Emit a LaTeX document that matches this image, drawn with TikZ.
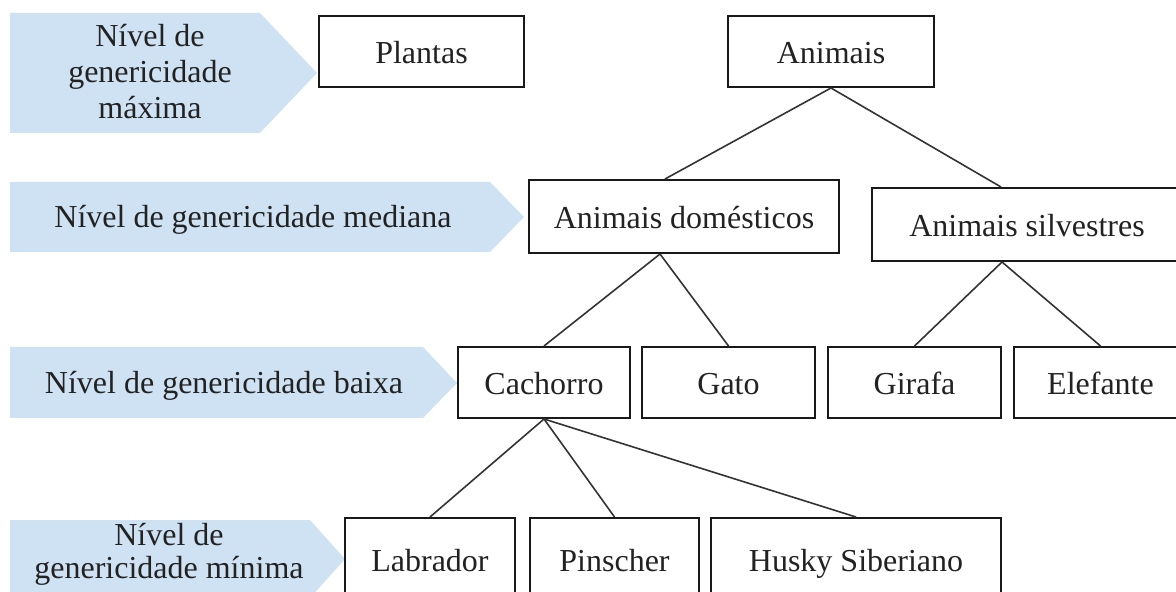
\documentclass[tikz,border=0pt]{standalone}
\usepackage{fontspec}
\setmainfont{Liberation Serif}
\definecolor{levelblue}{HTML}{CFE2F3}
\definecolor{ink}{HTML}{222222}
\begin{document}
\begin{tikzpicture}[x=0.5pt,y=-0.5pt,
  levelarrow/.style={fill=levelblue, draw=none},
  leveltext/.style={align=center, text=ink, inner sep=0pt,
    font=\fontsize{16}{18}\selectfont},
  box/.style={draw=black!90, line width=1pt, fill=white, inner sep=0pt,
    text=ink, text height=12pt, text depth=0pt, font=\fontsize{16}{19}\selectfont},
  link/.style={draw=black!80, line width=0.8pt}]
\useasboundingbox (0,0) rectangle (1176,592);
\clip (0,0) rectangle (1176,592);

% level arrows on the left
\fill[levelarrow] (10,13) -- (260,13) -- (317,73) -- (260,133) -- (10,133) -- cycle;
\fill[levelarrow] (10,182) -- (490,182) -- (524,217) -- (490,252) -- (10,252) -- cycle;
\fill[levelarrow] (10,347) -- (423,347) -- (457,383) -- (423,418) -- (10,418) -- cycle;
\fill[levelarrow] (10,520) -- (310,520) -- (345,559) -- (310,598) -- (10,598) -- cycle;

\node[leveltext] (lvmax) at (150,72) {Nível de\\genericidade\\máxima};
\node[leveltext] (lvmed) at (253,220) {Nível de genericidade mediana};
\node[leveltext] (lvbaixa) at (224,386) {Nível de genericidade baixa};
\node[leveltext, font=\fontsize{16}{16.5}\selectfont] (lvmin) at (169,554) {Nível de\\genericidade mínima};

% hierarchy boxes
\node[box, minimum width=102.5pt, minimum height=35.5pt] (plantas) at (421.5,51.5) {Plantas};
\node[box, minimum width=103pt, minimum height=35.5pt] (animais) at (831,51.5) {Animais};

\node[box, minimum width=155pt, minimum height=36.5pt] (dom) at (684,216.5) {Animais domésticos};
\node[box, minimum width=155pt, minimum height=36.5pt] (silv) at (1027,224.5) {Animais silvestres};

\node[box, minimum width=86pt, minimum height=35.5pt] (cach) at (544,382.5) {Cachorro};
\node[box, minimum width=86.5pt, minimum height=35.5pt] (gato) at (728.5,382.5) {Gato};
\node[box, minimum width=86.5pt, minimum height=35.5pt] (girafa) at (914.5,382.5) {Girafa};
\node[box, minimum width=86.5pt, minimum height=35.5pt] (elefante) at (1100.5,382.5) {Elefante};

\node[box, minimum width=85pt, minimum height=41pt] (labrador) at (430,559) {Labrador};
\node[box, minimum width=84.5pt, minimum height=41pt] (pinscher) at (614.5,559) {Pinscher};
\node[box, minimum width=145pt, minimum height=41pt] (husky) at (856,559) {Husky Siberiano};

% connectors
\draw[link] (animais.south) -- ([xshift=-9.5pt]dom.north);
\draw[link] (animais.south) -- ([xshift=-13pt]silv.north);
\draw[link] ([xshift=-12pt]dom.south) -- (cach.north);
\draw[link] ([xshift=-12pt]dom.south) -- (gato.north);
\draw[link] ([xshift=-12.5pt]silv.south) -- (girafa.north);
\draw[link] ([xshift=-12.5pt]silv.south) -- (elefante.north);
\draw[link] (cach.south) -- (labrador.north);
\draw[link] (cach.south) -- (pinscher.north);
\draw[link] (cach.south) -- (husky.north);
\end{tikzpicture}
\end{document}
